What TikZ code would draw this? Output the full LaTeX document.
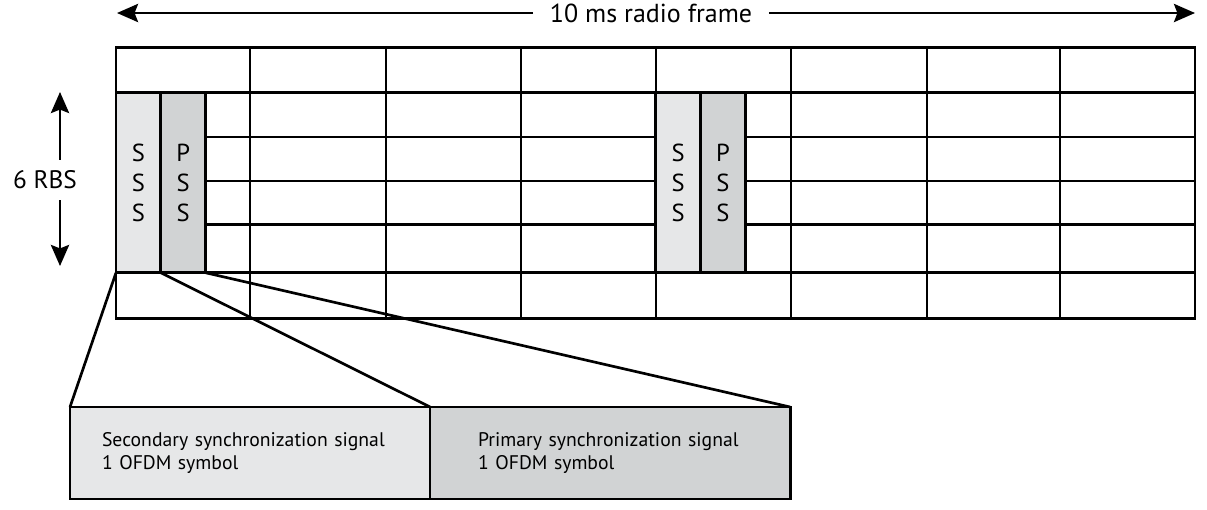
\documentclass[tikz,border=0pt]{standalone}
\usepackage{fontspec}
\setmainfont{PT Sans}
\usepackage{tikz}
\usetikzlibrary{arrows.meta}

\definecolor{sssgray}{HTML}{E6E7E8}
\definecolor{pssgray}{HTML}{D1D3D4}

\begin{document}
\begin{tikzpicture}[x=0.025cm, y=-0.025cm, line width=1.9pt,
    tip/.style={line width=1.6pt, -{Stealth[length=15pt, width=13pt, inset=2.5pt]}},
    sigbox/.style={draw, inner sep=0pt, outer sep=0pt, minimum width=1.12cm, minimum height=4.5cm,
        align=center, anchor=north west, font=\fontsize{17.5}{21.5}\selectfont},
    info/.style={draw, outer sep=0pt, minimum width=9cm, minimum height=2.3cm, align=left,
        anchor=north west, font=\fontsize{14}{16.5}\selectfont}]
        \useasboundingbox (0,0) rectangle (1207,509);

        % Frame grid
        \draw (116,47.5) rectangle (1195,318.5);
        \foreach \x in {250,386,521,656,791,927,1060}
            \draw (\x,47.5) -- (\x,318.5);
        \foreach \y in {92.7,137,181,224.5,272.7}
            \draw (116,\y) -- (1195,\y);

        % Sync signals
        \node[sigbox, fill=sssgray] (sss1) at (116,92.7) {S\\S\\S};
        \node[sigbox, fill=pssgray] (pss1) at (sss1.north east) {P\\S\\S};
        \node[sigbox, fill=sssgray] (sss2) at (655.7,92.7) {S\\S\\S};
        \node[sigbox, fill=pssgray] (pss2) at (sss2.north east) {P\\S\\S};

        % Radio frame length
        \node[font=\fontsize{18.5}{22}\selectfont, inner xsep=11pt] (frame) at (651,13) {10 ms radio frame};
        \coordinate (fl) at (117,13);
        \coordinate (fr) at (1195,13);
        \draw[tip] (frame.west) -- (fl);
        \draw[tip] (frame.east) -- (fr);

        % Bandwidth
        \node[font=\fontsize{18}{22}\selectfont, inner ysep=7pt] (rbs) at (45,180) {6 RBS};
        \coordinate (rt) at (60,92);
        \coordinate (rb) at (60,266);
        \draw[tip] (rbs.north -| rt) -- (rt);
        \draw[tip] (rbs.south -| rb) -- (rb);

        % Zoomed symbols
        \node[info, fill=sssgray, text width=7.4cm, inner xsep=0.8cm] (sssinfo) at (70,407)
            {Secondary synchronization signal\\1 OFDM symbol};
        \node[info, fill=pssgray, text width=6.6cm, inner xsep=1.2cm] (pssinfo) at (sssinfo.north east)
            {Primary synchronization signal\\1 OFDM symbol};
        \draw (sss1.south west) -- (sssinfo.north west);
        \draw (sss1.south east) -- (sssinfo.north east);
        \draw (pss1.south east) -- (pssinfo.north east);
    \end{tikzpicture}
\end{document}
